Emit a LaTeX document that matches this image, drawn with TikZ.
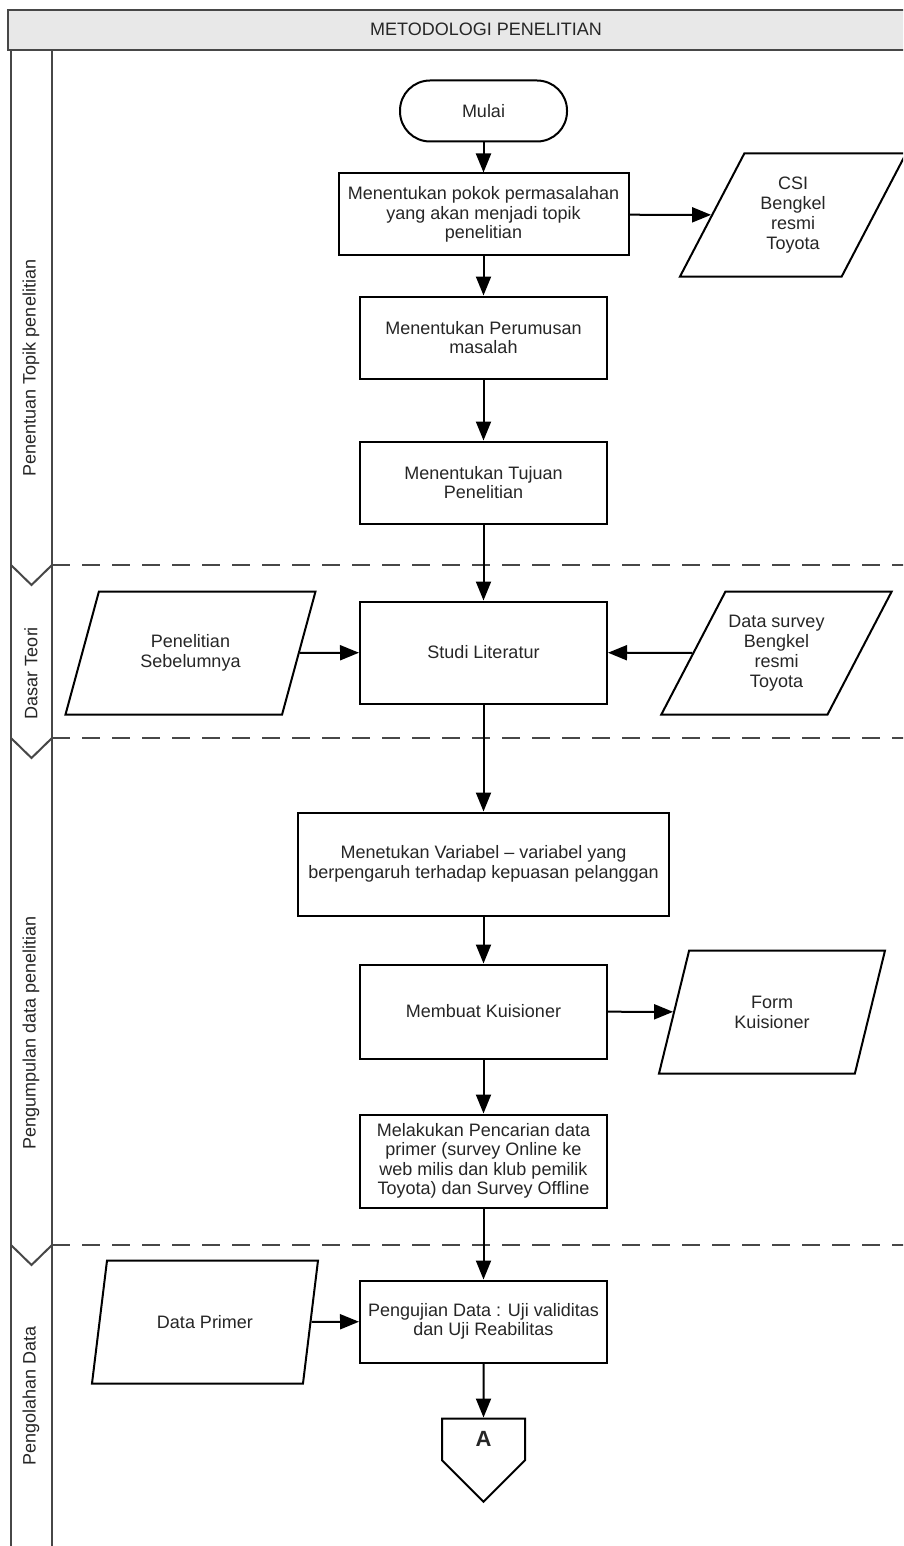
\documentclass[tikz,border=0pt]{standalone}
\usepackage{fontspec}
\setmainfont{Liberation Sans}
\usetikzlibrary{arrows.meta, shapes.geometric, shapes.symbols, positioning}
\definecolor{lanegray}{HTML}{474747}
\definecolor{titlefill}{HTML}{E8E8E8}
\definecolor{inkgray}{HTML}{262626}
\tikzset{
  procbox/.style={
    rectangle, draw=black, line width=2pt, inner sep=4pt,
    minimum width=247pt, minimum height=82pt, align=center,
    font=\fontsize{18}{19.5}\selectfont, text=inkgray
  },
  terminal/.style={
    rectangle, rounded corners=30pt, draw=black, line width=2pt,
    minimum width=167pt, minimum height=61pt,
    font=\fontsize{18}{19.5}\selectfont, text=inkgray
  },
  datainput/.style={
    trapezium, trapezium left angle=52, trapezium right angle=128,
    trapezium stretches body, draw=black, line width=2pt, inner sep=3pt,
    minimum width=226pt, minimum height=123pt, align=center,
    font=\fontsize{18}{20}\selectfont, text=inkgray
  },
  offpage/.style={
    signal, signal to=south, signal pointer angle=90, draw=black,
    line width=2pt, minimum width=83pt, minimum height=53pt,
    font=\fontsize{22}{24}\selectfont\bfseries, text=inkgray
  },
  flow/.style={-{Triangle[length=19pt, width=15pt]}, line width=2pt},
  lanelabel/.style={rotate=90, font=\fontsize{18}{20}\selectfont, text=inkgray},
  laneline/.style={draw=lanegray, line width=2pt},
  lanesep/.style={draw=lanegray, line width=2.5pt, dash pattern=on 18pt off 12pt},
}
\begin{document}
\begin{tikzpicture}[x=1pt, y=-1pt]
  \path[use as bounding box] (0,0) rectangle (903,1546);
  \clip (0,0) rectangle (903,1546);
  \fill[white] (0,0) rectangle (903,1546);

  % --- Judul dan kolom lane ---
  \draw[laneline, fill=titlefill] (8,10) rectangle (915,50);
  \node[font=\fontsize{18}{20}\selectfont, text=inkgray] (judul) at (486,29)
    {METODOLOGI PENELITIAN};
  \draw[laneline] (11,50) -- (11,1560);
  \draw[laneline] (52,50) -- (52,1560);
  \foreach \y in {565,738,1245} {
    \draw[laneline] (11,\y) -- (31.5,{\y+20}) -- (52,\y);
    \draw[lanesep] (52,\y) -- (915,\y);
  }
  \node[lanelabel] (laneA) at (31,368)  {Penentuan Topik penelitian};
  \node[lanelabel] (laneB) at (31,673)  {Dasar Teori};
  \node[lanelabel] (laneC) at (31,1033) {Pengumpulan data penelitian};
  \node[lanelabel] (laneD) at (31,1396) {Pengolahan Data};

  % --- Alur utama ---
  \node[terminal] (mulai) at (483.5,111) {Mulai};
  \node[procbox, below=30pt of mulai, minimum width=290pt] (pokok)
    {Menentukan pokok permasalahan\\yang akan menjadi topik\\penelitian};
  \node[procbox, below=39pt of pokok] (rumusan)
    {Menentukan Perumusan\\masalah};
  \node[procbox, below=61pt of rumusan] (tujuan)
    {Menentukan Tujuan\\Penelitian};
  \node[procbox, below=76pt of tujuan, minimum height=102pt] (studi)
    {Studi Literatur};
  \node[procbox, below=107pt of studi, minimum width=371pt, minimum height=103pt] (variabel)
    {Menetukan Variabel -- variabel yang\\berpengaruh terhadap kepuasan pelanggan};
  \node[procbox, below=47pt of variabel, minimum height=94pt] (kuesioner)
    {Membuat Kuisioner};
  \node[procbox, below=54pt of kuesioner, minimum height=93pt] (pencarian)
    {Melakukan Pencarian data\\primer (survey Online ke\\web milis dan klub pemilik\\Toyota) dan Survey Offline};
  \node[procbox, below=71pt of pencarian] (uji)
    {Pengujian Data : Uji validitas\\dan Uji Reabilitas};
  \node[offpage, below=54pt of uji] (konektor) {A};

  % --- Data masukan / keluaran ---
  \node[datainput] (csi) at (793,215) {CSI\\Bengkel\\resmi\\Toyota};
  \node[datainput, minimum width=250pt] (sebelum) at (190.5,653)
    {Penelitian\\Sebelumnya};
  \node[datainput] (survei) at (776.5,653)
    {Data survey\\Bengkel\\resmi\\Toyota};
  \node[datainput] (form) at (772,1012) {Form\\Kuisioner};
  \node[datainput] (primer) at (205,1322) {Data Primer};

  % --- Panah ---
  \draw[flow] (mulai) -- (pokok);
  \draw[flow] (pokok) -- (rumusan);
  \draw[flow] (rumusan) -- (tujuan);
  \draw[flow] (tujuan) -- (studi);
  \draw[flow] (studi) -- (variabel);
  \draw[flow] (variabel) -- (kuesioner);
  \draw[flow] (kuesioner) -- (pencarian);
  \draw[flow] (pencarian) -- (uji);
  \draw[flow] (uji) -- (konektor);
  \draw[flow] (pokok) -- (csi);
  \draw[flow] (sebelum) -- (studi);
  \draw[flow] (survei) -- (studi);
  \draw[flow] (kuesioner) -- (form);
  \draw[flow] (primer) -- (uji);
\end{tikzpicture}
\end{document}
